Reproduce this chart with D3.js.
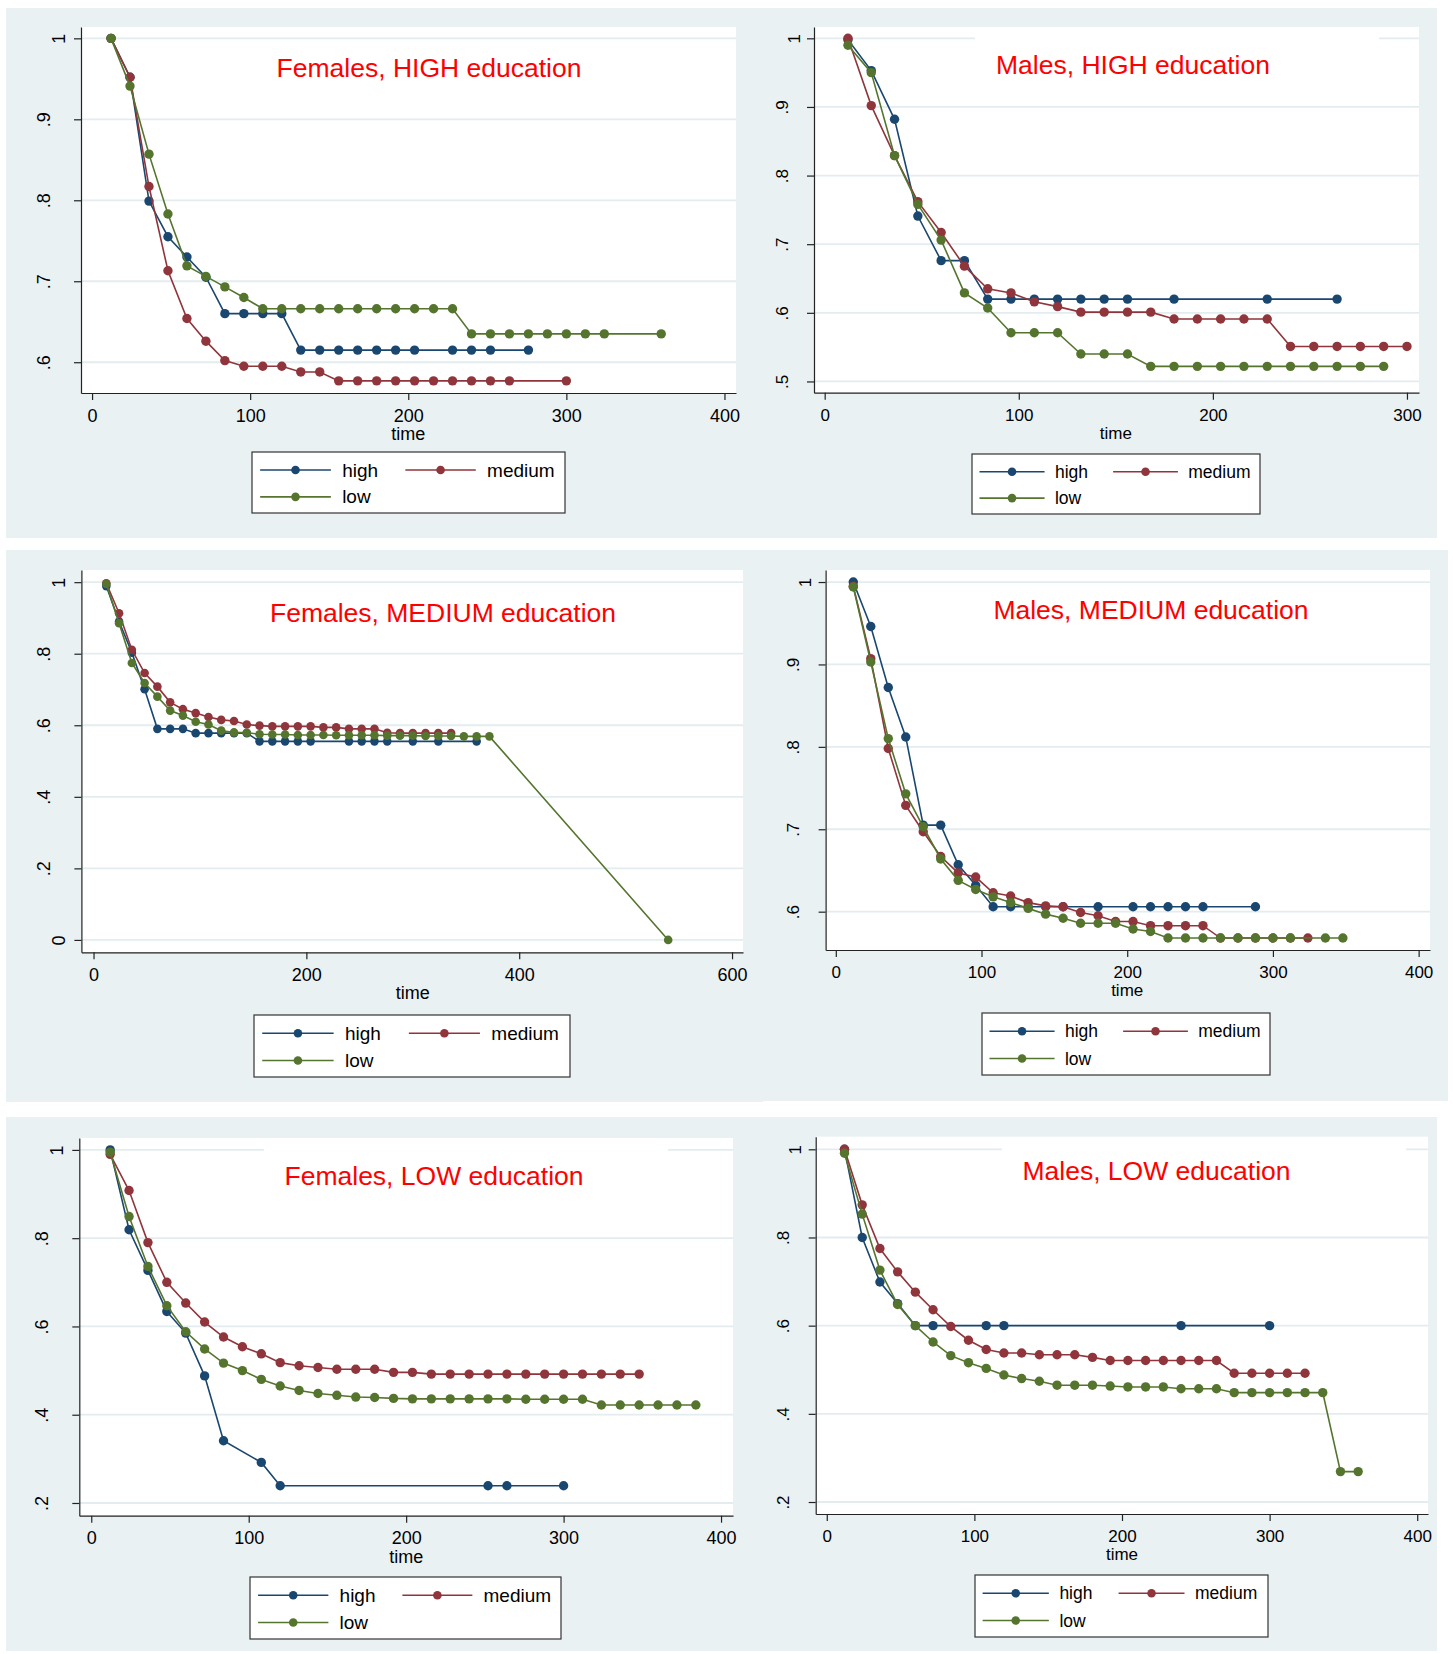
<!DOCTYPE html>
<html>
<head>
<meta charset="utf-8">
<script src="https://cdn.jsdelivr.net/npm/d3@7"></script>
<style>
body { margin: 0; background: #fff; }
svg { display: block; font-family: 'Liberation Sans', Arial, sans-serif; }
</style>
</head>
<body>
<script>
/* global d3 */

// education of the child, in legend order
const groups = ['high', 'medium', 'low'];
const groupColors = ['#1a476f', '#90353b', '#55752f'];

// survival estimates as [time, share] pairs
const femHighEdu_high = [[12,1],[24,.952],[36,.799],[48,.755],[60,.730],[72,.705],[84,.660],[96,.660],[108,.660],[120,.660],[132,.615],[144,.615],[156,.615],[168,.615],[180,.615],[192,.615],[204,.615],[228,.615],[240,.615],[252,.615],[276,.615]];
const femHighEdu_medium = [[12,1],[24,.952],[36,.817],[48,.713],[60,.654],[72,.626],[84,.602],[96,.595],[108,.595],[120,.595],[132,.588],[144,.588],[156,.577],[168,.577],[180,.577],[192,.577],[204,.577],[216,.577],[228,.577],[240,.577],[252,.577],[264,.577],[300,.577]];
const femHighEdu_low = [[12,1],[24,.941],[36,.857],[48,.783],[60,.719],[72,.706],[84,.693],[96,.680],[108,.666],[120,.666],[132,.666],[144,.666],[156,.666],[168,.666],[180,.666],[192,.666],[204,.666],[216,.666],[228,.666],[240,.635],[252,.635],[264,.635],[276,.635],[288,.635],[300,.635],[312,.635],[324,.635],[360,.635]];

const maleHighEdu_high = [[12,.998],[24,.953],[36,.882],[48,.741],[60,.676],[72,.676],[84,.620],[96,.620],[108,.620],[120,.620],[132,.620],[144,.620],[156,.620],[180,.620],[228,.620],[264,.620]];
const maleHighEdu_medium = [[12,1],[24,.902],[36,.829],[48,.762],[60,.717],[72,.668],[84,.635],[96,.629],[108,.616],[120,.609],[132,.601],[144,.601],[156,.601],[168,.601],[180,.591],[192,.591],[204,.591],[216,.591],[228,.591],[240,.551],[252,.551],[264,.551],[276,.551],[288,.551],[300,.551]];
const maleHighEdu_low = [[12,.990],[24,.950],[36,.829],[48,.758],[60,.706],[72,.629],[84,.607],[96,.571],[108,.571],[120,.571],[132,.540],[144,.540],[156,.540],[168,.522],[180,.522],[192,.522],[204,.522],[216,.522],[228,.522],[240,.522],[252,.522],[264,.522],[276,.522],[288,.522]];

const femMedEdu_high = [[12,.989],[24,.89],[36,.803],[48,.701],[60,.590],[72,.590],[84,.590],[96,.578],[108,.578],[120,.578],[132,.578],[144,.578],[156,.555],[168,.555],[180,.555],[192,.555],[204,.555],[240,.555],[252,.555],[264,.555],[276,.555],[300,.555],[324,.555],[360,.555]];
const femMedEdu_medium = [[12,.997],[24,.913],[36,.811],[48,.746],[60,.708],[72,.664],[84,.645],[96,.634],[108,.623],[120,.615],[132,.612],[144,.602],[156,.599],[168,.597],[180,.597],[192,.597],[204,.597],[216,.594],[228,.594],[240,.590],[252,.590],[264,.590],[276,.579],[288,.578],[300,.578],[312,.578],[324,.578],[336,.578]];
const femMedEdu_low = [[12,.995],[24,.885],[36,.774],[48,.718],[60,.680],[72,.641],[84,.627],[96,.610],[108,.602],[120,.585],[132,.580],[144,.579],[156,.575],[168,.574],[180,.574],[192,.573],[204,.573],[216,.573],[228,.572],[240,.572],[252,.572],[264,.572],[276,.571],[288,.571],[300,.571],[312,.570],[324,.570],[336,.570],[348,.569],[360,.569],[372,.569],[540,0]];

const maleMedEdu_high = [[12,1],[24,.946],[36,.872],[48,.812],[60,.705],[72,.705],[84,.657],[96,.632],[108,.606],[120,.606],[132,.606],[144,.606],[156,.606],[180,.606],[204,.606],[216,.606],[228,.606],[240,.606],[252,.606],[288,.606]];
const maleMedEdu_medium = [[12,.995],[24,.907],[36,.798],[48,.729],[60,.697],[72,.667],[84,.647],[96,.642],[108,.623],[120,.619],[132,.611],[144,.607],[156,.606],[168,.599],[180,.595],[192,.588],[204,.588],[216,.583],[228,.583],[240,.583],[252,.583],[264,.568],[276,.568],[288,.568],[300,.568],[312,.568],[324,.568]];
const maleMedEdu_low = [[12,.994],[24,.903],[36,.810],[48,.743],[60,.703],[72,.664],[84,.638],[96,.627],[108,.618],[120,.611],[132,.604],[144,.597],[156,.592],[168,.586],[180,.586],[192,.586],[204,.579],[216,.576],[228,.568],[240,.568],[252,.568],[264,.568],[276,.568],[288,.568],[300,.568],[312,.568],[336,.568],[348,.568]];

const femLowEdu_high = [[12,1],[24,.819],[36,.727],[48,.634],[60,.585],[72,.488],[84,.341],[108,.292],[120,.239],[252,.239],[264,.239],[300,.239]];
const femLowEdu_medium = [[12,.990],[24,.908],[36,.790],[48,.700],[60,.653],[72,.610],[84,.576],[96,.554],[108,.538],[120,.518],[132,.511],[144,.507],[156,.503],[168,.503],[180,.503],[192,.496],[204,.496],[216,.492],[228,.492],[240,.492],[252,.492],[264,.492],[276,.492],[288,.492],[300,.492],[312,.492],[324,.492],[336,.492],[348,.492]];
const femLowEdu_low = [[12,.995],[24,.849],[36,.736],[48,.647],[60,.588],[72,.549],[84,.517],[96,.500],[108,.480],[120,.465],[132,.455],[144,.448],[156,.444],[168,.440],[180,.439],[192,.437],[204,.436],[216,.436],[228,.436],[240,.436],[252,.436],[264,.436],[276,.435],[288,.435],[300,.435],[312,.435],[324,.422],[336,.422],[348,.422],[360,.422],[372,.422],[384,.422]];

const maleLowEdu_high = [[12,1],[24,.80],[36,.699],[48,.650],[60,.60],[72,.60],[108,.60],[120,.60],[240,.60],[300,.60]];
const maleLowEdu_medium = [[12,1],[24,.874],[36,.775],[48,.722],[60,.676],[72,.636],[84,.598],[96,.567],[108,.546],[120,.538],[132,.538],[144,.534],[156,.534],[168,.534],[180,.528],[192,.521],[204,.521],[216,.521],[228,.521],[240,.521],[252,.521],[264,.521],[276,.492],[288,.492],[300,.492],[312,.492],[324,.492]];
const maleLowEdu_low = [[12,.991],[24,.853],[36,.726],[48,.648],[60,.60],[72,.563],[84,.532],[96,.516],[108,.503],[120,.488],[132,.480],[144,.474],[156,.465],[168,.465],[180,.465],[192,.463],[204,.461],[216,.461],[228,.461],[240,.457],[252,.457],[264,.457],[276,.448],[288,.448],[300,.448],[312,.448],[324,.448],[336,.448],[348,.269],[360,.269]];

// axis ticks per panel
const ticks400 = [0, 100, 200, 300, 400];
const ticks300 = [0, 100, 200, 300];
const ticks600 = [0, 200, 400, 600];
const yTicksFemHigh = [1, .9, .8, .7, .6];
const yTicksMaleHigh = [1, .9, .8, .7, .6, .5];
const yTicksFull = [1, .8, .6, .4, .2, 0];
const yTicksMaleMed = [1, .9, .8, .7, .6];
const yTicksLow = [1, .8, .6, .4, .2];

// the six pasted panels; boxes are [left, top, right, bottom]
const panels = [
	{ title: 'Females, HIGH education', series: [femHighEdu_high, femHighEdu_medium, femHighEdu_low],
		xTicks: ticks400, yTicks: yTicksFemHigh, bg: [6, 8, 762, 538], plot: [81, 27, 736, 393],
		xDomain: [-7, 407.3], yDomain: [0.562, 1.014], titleAt: [429, 68], legend: [252, 452, 313, 61], right: false },
	{ title: 'Males, HIGH education', series: [maleHighEdu_high, maleHighEdu_medium, maleHighEdu_low],
		xTicks: ticks300, yTicks: yTicksMaleHigh, bg: [760, 8, 1437, 538], plot: [814, 27, 1419, 392.7],
		xDomain: [-5.5, 306.2], yDomain: [0.4836, 1.0165], titleAt: [1133, 64.5], titleBox: [975, 1379], legend: [972, 454, 288, 60], right: true },
	{ title: 'Females, MEDIUM education', series: [femMedEdu_high, femMedEdu_medium, femMedEdu_low],
		xTicks: ticks600, yTicks: yTicksFull, bg: [6, 550, 763, 1102], plot: [81.4, 570, 743, 952.3],
		xDomain: [-11.4, 610.3], yDomain: [-0.0346, 1.034], titleAt: [443, 613], legend: [254, 1015, 316, 62], right: false, r: 4.3 },
	{ title: 'Males, MEDIUM education', series: [maleMedEdu_high, maleMedEdu_medium, maleMedEdu_low],
		xTicks: ticks400, yTicks: yTicksMaleMed, bg: [760, 550, 1448, 1101], plot: [825.6, 570, 1430, 950],
		xDomain: [-7, 407.8], yDomain: [0.5535, 1.0146], titleAt: [1151, 610], legend: [982, 1013, 288, 62], right: true },
	{ title: 'Females, LOW education', series: [femLowEdu_high, femLowEdu_medium, femLowEdu_low],
		xTicks: ticks400, yTicks: yTicksLow, bg: [6, 1117, 762, 1651], plot: [79.3, 1138, 733, 1515.7],
		xDomain: [-7.6, 407.6], yDomain: [0.1712, 1.027], titleAt: [434, 1175.5], titleBox: [264, 668], legend: [250, 1577, 311, 62], right: false },
	{ title: 'Males, LOW education', series: [maleLowEdu_high, maleLowEdu_medium, maleLowEdu_low],
		xTicks: ticks400, yTicks: yTicksLow, bg: [762, 1117, 1437, 1651], plot: [815.7, 1136.7, 1428, 1514],
		xDomain: [-7.5, 407.3], yDomain: [0.1728, 1.0286], titleAt: [1156.5, 1171], titleBox: [1002, 1406], legend: [975, 1575, 293, 62], right: true }
];

const svg = d3.select('body').append('svg')
	.attr('width', 1453)
	.attr('height', 1654);

// stata style labels: ".8" rather than "0.8"
const yFormat = d => String(d).replace(/^0\./, '.');

function drawPanel(p) {
	const g = svg.append('g');
	const [bx0, by0, bx1, by1] = p.bg;
	const [l, t, r, b] = p.plot;
	const tickFont = p.right ? 17 : 18;
	const legendFont = p.right ? 17.5 : 19;
	const radius = p.r || 4.7;

	g.append('rect')
		.attr('x', bx0).attr('y', by0)
		.attr('width', bx1 - bx0).attr('height', by1 - by0)
		.attr('fill', '#eaf1f3');

	g.append('rect')
		.attr('x', l).attr('y', t)
		.attr('width', r - l).attr('height', b - t)
		.attr('fill', '#fff');

	const x = d3.scaleLinear().domain(p.xDomain).range([l, r]);
	const y = d3.scaleLinear().domain(p.yDomain).range([b, t]);

	g.append('g').selectAll('line')
		.data(p.yTicks)
		.join('line')
		.attr('x1', l).attr('x2', r)
		.attr('y1', d => y(d)).attr('y2', d => y(d))
		.attr('stroke', '#e3ecef')
		.attr('stroke-width', 1.8);

	// title sits in a pasted white box on some panels, which hides the top gridline
	if (p.titleBox) {
		g.append('rect')
			.attr('x', p.titleBox[0]).attr('y', t + 1)
			.attr('width', p.titleBox[1] - p.titleBox[0])
			.attr('height', p.titleAt[1] + 28 - t)
			.attr('fill', '#fff');
	}

	g.append('text')
		.attr('x', p.titleAt[0]).attr('y', p.titleAt[1])
		.attr('text-anchor', 'middle')
		.attr('dominant-baseline', 'central')
		.attr('font-size', 26.5)
		.attr('fill', '#ff0000')
		.text(p.title);

	// axes
	const yAxis = g.append('g')
		.attr('transform', `translate(${l},0)`)
		.call(d3.axisLeft(y).tickValues(p.yTicks).tickSize(7).tickSizeOuter(0).tickFormat(yFormat));
	const labelOff = p.right ? [20, 32] : [22.5, 37.5];
	yAxis.selectAll('text')
		.attr('x', null).attr('dy', null)
		.attr('transform', d => `translate(${-labelOff[yFormat(d).length > 1 ? 1 : 0]},0) rotate(-90)`)
		.attr('text-anchor', 'middle')
		.attr('dominant-baseline', 'central');

	const xAxis = g.append('g')
		.attr('transform', `translate(0,${b})`)
		.call(d3.axisBottom(x).tickValues(p.xTicks).tickSize(7).tickSizeOuter(0));
	xAxis.selectAll('text')
		.attr('y', 22.5)
		.attr('dy', '0.35em');

	[yAxis, xAxis].forEach(ax => {
		ax.attr('font-family', null).attr('font-size', tickFont);
		ax.selectAll('.domain, .tick line').attr('stroke', '#222').attr('stroke-width', 1.2);
		ax.selectAll('text').attr('fill', '#000');
	});

	g.append('text')
		.attr('x', (x(p.xTicks[0]) + x(p.xTicks[p.xTicks.length - 1])) / 2)
		.attr('y', b + 40.5)
		.attr('dy', '0.35em')
		.attr('text-anchor', 'middle')
		.attr('font-size', tickFont)
		.text('time');

	// series drawn in legend order, line then markers
	const line = d3.line().x(d => x(d[0])).y(d => y(d[1]));
	p.series.forEach((data, i) => {
		const sg = g.append('g');
		sg.append('path')
			.attr('d', line(data))
			.attr('fill', 'none')
			.attr('stroke', groupColors[i])
			.attr('stroke-width', 1.6);
		sg.selectAll('circle')
			.data(data)
			.join('circle')
			.attr('cx', d => x(d[0]))
			.attr('cy', d => y(d[1]))
			.attr('r', radius)
			.attr('fill', groupColors[i]);
	});

	// legend: two columns, "low" wraps to the second row
	const [lx, ly, lw, lh] = p.legend;
	const lg = g.append('g').attr('transform', `translate(${lx},${ly})`);
	lg.append('rect')
		.attr('width', lw).attr('height', lh)
		.attr('fill', '#fff')
		.attr('stroke', '#333')
		.attr('stroke-width', 1.2);
	groups.forEach((name, i) => {
		const col = i % 2;
		const row = Math.floor(i / 2);
		const x0 = lw * (col ? 0.490 : 0.026);
		const x1 = lw * (col ? 0.715 : 0.252);
		const cy = lh * (row ? 0.735 : 0.295);
		lg.append('line')
			.attr('x1', x0).attr('x2', x1)
			.attr('y1', cy).attr('y2', cy)
			.attr('stroke', groupColors[i])
			.attr('stroke-width', 1.6);
		lg.append('circle')
			.attr('cx', (x0 + x1) / 2).attr('cy', cy)
			.attr('r', 4.3)
			.attr('fill', groupColors[i]);
		lg.append('text')
			.attr('x', lw * (col ? 0.751 : 0.288))
			.attr('y', cy)
			.attr('dy', '0.35em')
			.attr('font-size', legendFont)
			.attr('fill', '#000')
			.text(name);
	});
}

panels.forEach(drawPanel);
</script>
</body>
</html>
